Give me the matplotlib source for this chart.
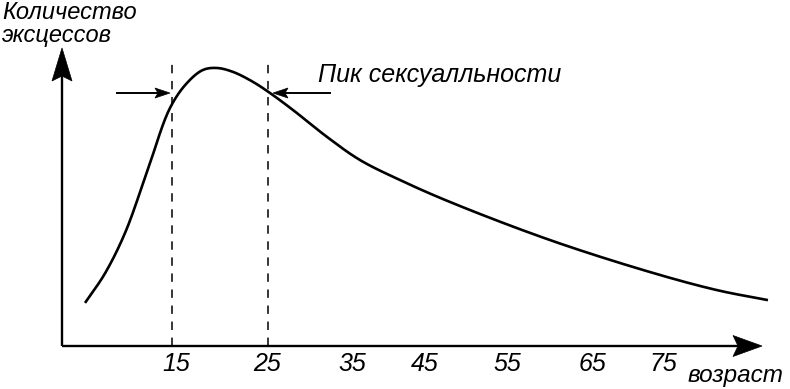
import matplotlib
matplotlib.use("Agg")
import matplotlib.pyplot as plt
import matplotlib.transforms as mtransforms
from matplotlib.patches import Polygon
import numpy as np

# ---- data ----
age = [5.94, 8.0, 10.10, 12.36, 14.79, 16.56, 18.23,
       19.69, 21.35, 23.44, 25.21, 27.60, 31.15, 34.58, 38.75, 43.96, 54.38,
       64.79, 71.77, 77.08]
excesses = [15.5, 26.0, 40.6, 62.2, 85.6, 94.6, 99.3,
            100.0, 98.6, 95.0, 91.0, 84.9, 75.2, 66.9, 59.7, 51.8, 38.1,
            26.6, 20.1, 16.5]
tick_pos = [15.4, 24.9, 33.75, 41.35, 49.9, 58.75, 66.15]
tick_labels = ["15", "25", "35", "45", "55", "65", "75"]
peak_bounds = [15, 25]
y_label = "Количество\nэксцессов"
x_label = "возраст"
peak_label = "Пик сексуалльности"

FONT = ["Liberation Sans", "DejaVu Sans"]
plt.rcParams['font.family'] = FONT

W, H = 790, 389
XS, YS = 9.6, 2.78  # px per data unit (for smoothing only)
fig = plt.figure(figsize=(W / 100, H / 100), dpi=100)
ax = fig.add_axes([62 / W, (H - 346) / H, (775 - 62) / W, (346 - 40) / H])
xmin, xmax = 3.5417, 77.8125
ax.set_xlim(xmin, xmax)
ax.set_ylim(0, 110.07)
for s in ax.spines.values():
    s.set_visible(False)
ax.set_yticks([])
ax.set_xticks(tick_pos, tick_labels)
ax.tick_params(axis='x', length=0, pad=4.0, labelsize=18)
for t in ax.get_xticklabels():
    t.set_fontstyle('italic')


def stealth(x, y, direction, length, half, notch):
    """Arrowhead polygon in pixel units, tip at data point (x, y)."""
    pts = np.array([[0, 0], [-length, half], [-length + notch, 0], [-length, -half]])
    ang = {'right': 0, 'left': np.pi, 'up': np.pi / 2}[direction]
    R = np.array([[np.cos(ang), -np.sin(ang)], [np.sin(ang), np.cos(ang)]])
    pts = pts @ R.T
    tr = mtransforms.ScaledTranslation(x, y, ax.transData)
    p = Polygon(pts, closed=True, facecolor='black', edgecolor='black', lw=0.5,
                transform=tr, clip_on=False)
    ax.add_patch(p)


# axes lines with arrowheads
x_tip = 76.46
y_tip = 107.2
ax.plot([xmin, x_tip - 1.5], [0, 0], color='black', lw=1.7, clip_on=False,
        solid_capstyle='butt')
ax.plot([xmin, xmin], [0, y_tip - 5], color='black', lw=1.7, clip_on=False,
        solid_capstyle='butt')
stealth(x_tip, 0, 'right', 29, 10.5, 5)
stealth(xmin, y_tip, 'up', 33, 10.0, 5)

# dashed boundary lines
for b in peak_bounds:
    ax.plot([b, b], [0, 101.5], color='black', lw=1.1,
            linestyle=(0, (5.5, 5.0)), clip_on=False)


# smooth curve through the read points (centripetal Catmull-Rom in pixel space)
def catmull(xp, yp, n=30, alpha=0.5):
    P = np.column_stack([np.array(xp) * XS, np.array(yp) * YS])
    P = np.vstack([2 * P[0] - P[1], P, 2 * P[-1] - P[-2]])
    out = []
    for i in range(1, len(P) - 2):
        p0, p1, p2, p3 = P[i - 1], P[i], P[i + 1], P[i + 2]
        t0 = 0.0
        t1 = t0 + np.linalg.norm(p1 - p0) ** alpha
        t2 = t1 + np.linalg.norm(p2 - p1) ** alpha
        t3 = t2 + np.linalg.norm(p3 - p2) ** alpha
        for t in np.linspace(t1, t2, n, endpoint=False):
            a1 = (t1 - t) / (t1 - t0) * p0 + (t - t0) / (t1 - t0) * p1
            a2 = (t2 - t) / (t2 - t1) * p1 + (t - t1) / (t2 - t1) * p2
            a3 = (t3 - t) / (t3 - t2) * p2 + (t - t2) / (t3 - t2) * p3
            b1 = (t2 - t) / (t2 - t0) * a1 + (t - t0) / (t2 - t0) * a2
            b2 = (t3 - t) / (t3 - t1) * a2 + (t - t1) / (t3 - t1) * a3
            out.append((t2 - t) / (t2 - t1) * b1 + (t - t1) / (t2 - t1) * b2)
    out.append(P[-2])
    out = np.array(out)
    return out[:, 0] / XS, out[:, 1] / YS


cx, cy = catmull(age, excesses)
ax.plot(cx, cy, color='black', lw=1.9, clip_on=False, solid_capstyle='butt')

# arrows pointing to the peak boundaries
arrow_y = 91.0
ax.plot([9.27, 14.0], [arrow_y, arrow_y], color='black', lw=1.4, clip_on=False)
stealth(14.79, arrow_y, 'right', 15, 5, 3)
ax.plot([31.46, 26.5], [arrow_y, arrow_y], color='black', lw=1.4, clip_on=False)
stealth(25.52, arrow_y, 'left', 15, 5, 3)

# texts
fig.text(318 / W, 1 - 82 / H, peak_label, fontsize=18, style='italic',
         ha='left', va='baseline')
fig.text(2 / W, 1 - 1 / H, y_label, fontsize=17, style='italic',
         ha='left', va='top', linespacing=0.98)
fig.text(784 / W, 1 - 382 / H, x_label, fontsize=17.5, style='italic',
         ha='right', va='baseline')

fig.savefig("out.png", dpi=100)
